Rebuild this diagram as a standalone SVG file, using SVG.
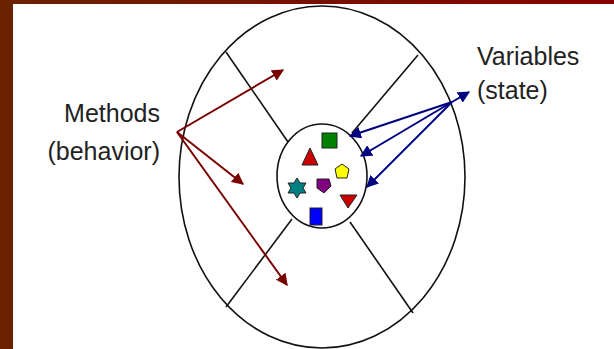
<svg xmlns="http://www.w3.org/2000/svg" width="614" height="349" viewBox="0 0 614 349">
<defs>
<linearGradient id="topbar" x1="0" y1="0" x2="1" y2="0">
<stop offset="0" stop-color="#6b2200"/>
<stop offset="1" stop-color="#850000"/>
</linearGradient>
<marker id="redHead" viewBox="0 0 10 10" refX="9" refY="5" markerWidth="6" markerHeight="6" orient="auto" markerUnits="strokeWidth">
<path d="M0,0 L10,5 L0,10 z" fill="#7a0000"/>
</marker>
<marker id="blueHead" viewBox="0 0 10 10" refX="9" refY="5" markerWidth="6" markerHeight="6" orient="auto" markerUnits="strokeWidth">
<path d="M0,0 L10,5 L0,10 z" fill="#000080"/>
</marker>
</defs>
<style>
.outline{fill:none;stroke:#111;stroke-width:1.6}
.lbl{font-family:"Liberation Sans",Arial,sans-serif;font-size:25px;fill:#222}
.red{stroke:#7a0000;stroke-width:2;fill:none;marker-end:url(#redHead)}
.blue{stroke:#000080;stroke-width:2;fill:none;marker-end:url(#blueHead)}
.shp{stroke:#222;stroke-width:1}
</style>
<rect x="0" y="0" width="614" height="349" fill="#ffffff"/>
<rect x="0" y="0" width="614" height="4" fill="url(#topbar)"/>
<rect x="0" y="0" width="13" height="349" fill="#6b2200"/>

<g id="object">
<ellipse class="outline" cx="322" cy="177" rx="143" ry="171"/>
<line class="outline" x1="226" y1="52" x2="288" y2="142"/>
<line class="outline" x1="418" y1="55" x2="352" y2="133"/>
<line class="outline" x1="292" y1="219" x2="226" y2="307"/>
<line class="outline" x1="350" y1="222" x2="413" y2="313"/>
</g>

<g id="nucleus">
<ellipse class="outline" cx="322" cy="176" rx="45" ry="52"/>
<rect class="shp" x="322" y="133" width="15" height="15" fill="#008000"/>
<polygon class="shp" points="310,148 302,165 318,165" fill="#cc0000"/>
<polygon class="shp" points="342,164 349,169 347,178 337,178 335,169" fill="#ffff00"/>
<polygon class="shp" points="297,178 300,183 306,183 303,188 306,193 300,193 297,198 294,193 288,193 291,188 288,183 294,183" fill="#008080"/>
<polygon class="shp" points="317,179 329,179 331,186 324,193 317,188" fill="#800080"/>
<polygon class="shp" points="340,195 357,195 348,208" fill="#cc0000"/>
<rect class="shp" x="310" y="208" width="12" height="17" fill="#0000ff"/>
</g>

<g id="methods-label">
<text class="lbl" x="160" y="122" text-anchor="end">Methods</text>
<text class="lbl" x="160" y="160" text-anchor="end">(behavior)</text>
</g>

<g id="variables-label">
<text class="lbl" x="477" y="65">Variables</text>
<text class="lbl" x="477" y="99">(state)</text>
</g>

<g id="connectors">
<line class="red" x1="177" y1="132" x2="283" y2="70"/>
<line class="red" x1="177" y1="132" x2="243" y2="184"/>
<line class="red" x1="177" y1="132" x2="287" y2="285"/>
<line class="blue" x1="452" y1="102" x2="350" y2="136"/>
<line class="blue" x1="452" y1="102" x2="361" y2="156"/>
<line class="blue" x1="452" y1="102" x2="367" y2="187"/>
<line class="blue" x1="452" y1="102" x2="469" y2="92"/>
</g>
</svg>
